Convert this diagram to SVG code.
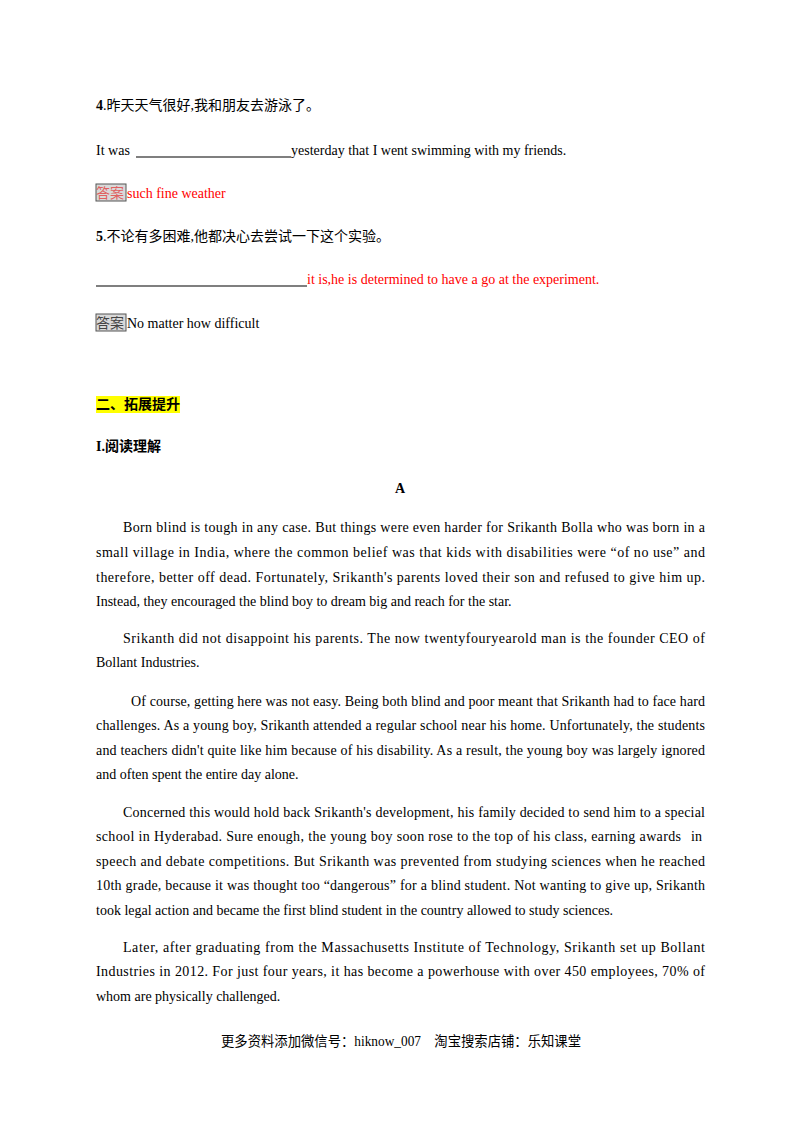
<svg xmlns="http://www.w3.org/2000/svg" width="800" height="1132" viewBox="0 0 800 1132">
<style>
text{font-family:"Liberation Serif","Noto Sans CJK SC",serif;font-size:14px;fill:#000}
.r{fill:#ff0000}
.b{font-weight:bold}
.box{fill:#d9d9d9;stroke:#555;stroke-width:1}
.ul{stroke:#000;stroke-width:1.2}
</style>
<rect width="800" height="1132" fill="#fff"/>
<text x="96" y="110"><tspan class="b">4</tspan>.昨天天气很好,我和朋友去游泳了。</text>
<text x="96" y="155">It was</text>
<line class="ul" x1="136" y1="157" x2="291" y2="157"/>
<text x="291" y="155">yesterday that I went swimming with my friends.</text>
<rect class="box" x="96" y="184" width="30" height="17"/>
<text x="96" y="198" style="fill:#e06060">答案</text>
<text class="r" x="127" y="198">such fine weather</text>
<text x="96" y="241"><tspan class="b">5</tspan>.不论有多困难,他都决心去尝试一下这个实验。</text>
<line class="ul" x1="96" y1="286" x2="307" y2="286"/>
<text class="r" x="307" y="284">it is,he is determined to have a go at the experiment.</text>
<rect class="box" x="96" y="314" width="30" height="17"/>
<text x="96" y="328" style="fill:#444">答案</text>
<text x="127" y="328">No matter how difficult</text>
<rect x="96" y="396" width="84" height="17" fill="#ffff00"/>
<text class="b" x="96" y="409">二、拓展提升</text>
<text class="b" x="96" y="451">I.阅读理解</text>
<text class="b" x="400" y="493" text-anchor="middle">A</text>
<g>
<text x="123" y="532" textLength="582" lengthAdjust="spacing">Born blind is tough in any case. But things were even harder for Srikanth Bolla who was born in a</text>
<text x="96" y="557" textLength="609" lengthAdjust="spacing">small village in India, where the common belief was that kids with disabilities were “of no use” and</text>
<text x="96" y="582" textLength="609" lengthAdjust="spacing">therefore, better off dead. Fortunately, Srikanth's parents loved their son and refused to give him up.</text>
<text x="96" y="606">Instead, they encouraged the blind boy to dream big and reach for the star.</text>
<text x="123" y="643" textLength="582" lengthAdjust="spacing">Srikanth did not disappoint his parents. The now twentyfouryearold man is the founder CEO of</text>
<text x="96" y="667">Bollant Industries.</text>
<text x="131" y="706" textLength="574" lengthAdjust="spacing">Of course, getting here was not easy. Being both blind and poor meant that Srikanth had to face hard</text>
<text x="96" y="730" textLength="609" lengthAdjust="spacing">challenges. As a young boy, Srikanth attended a regular school near his home. Unfortunately, the students</text>
<text x="96" y="755" textLength="609" lengthAdjust="spacing">and teachers didn't quite like him because of his disability. As a result, the young boy was largely ignored</text>
<text x="96" y="779">and often spent the entire day alone.</text>
<text x="123" y="817" textLength="582" lengthAdjust="spacing">Concerned this would hold back Srikanth's development, his family decided to send him to a special</text>
<text x="96" y="841" textLength="585" lengthAdjust="spacing">school in Hyderabad. Sure enough, the young boy soon rose to the top of his class, earning awards</text>
<text x="691" y="841">in</text>
<text x="96" y="866" textLength="609" lengthAdjust="spacing">speech and debate competitions. But Srikanth was prevented from studying sciences when he reached</text>
<text x="96" y="890" textLength="609" lengthAdjust="spacing">10th grade, because it was thought too “dangerous” for a blind student. Not wanting to give up, Srikanth</text>
<text x="96" y="915">took legal action and became the first blind student in the country allowed to study sciences.</text>
<text x="123" y="952" textLength="582" lengthAdjust="spacing">Later, after graduating from the Massachusetts Institute of Technology, Srikanth set up Bollant</text>
<text x="96" y="976" textLength="609" lengthAdjust="spacing">Industries in 2012. For just four years, it has become a powerhouse with over 450 employees, 70% of</text>
<text x="96" y="1001">whom are physically challenged.</text>
</g>
<text x="221" y="1046" textLength="360" lengthAdjust="spacingAndGlyphs">更多资料添加微信号：hiknow_007　淘宝搜索店铺：乐知课堂</text>
</svg>
